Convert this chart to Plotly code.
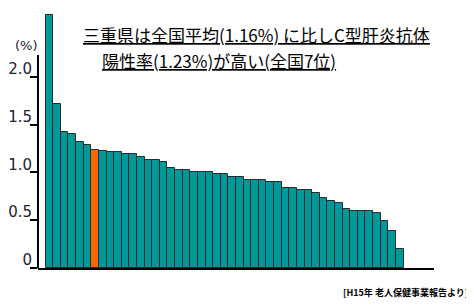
import plotly.graph_objects as go

values = [2.65, 1.72, 1.42, 1.40, 1.32, 1.29, 1.23, 1.22, 1.21, 1.21,
          1.19, 1.19, 1.16, 1.13, 1.13, 1.11, 1.05, 1.03, 1.03, 1.00,
          1.00, 1.00, 0.98, 0.98, 0.95, 0.95, 0.92, 0.92, 0.92, 0.90,
          0.90, 0.84, 0.84, 0.82, 0.82, 0.78, 0.73, 0.70, 0.68, 0.62,
          0.60, 0.60, 0.60, 0.58, 0.49, 0.39, 0.20]
categories = list(range(len(values)))
highlight_index = 6  # 三重県
tick_vals = [0, 0.5, 1.0, 1.5, 2.0]
tick_text = ["0", "0.5", "1.0", "1.5", "2.0"]

colors = ["#FF6600" if i == highlight_index else "#009999" for i in categories]

# page body has an 8px margin; figure is laid out in page pixels minus 8
OFF = 8
W, H = 466, 297
L, R, T, B = 30, 40, 2, 37
PW, PH = W - L - R, H - T - B


def px(xr):
    return (xr - OFF - L) / PW


def py(yr):
    return (H - B - (yr - OFF)) / PH


fig = go.Figure()
fig.add_trace(go.Bar(
    x=categories, y=values,
    marker=dict(color=colors, line=dict(color="#2a2a2a", width=1)),
    width=1.0,
    showlegend=False,
))

fig.update_layout(
    width=W, height=H,
    margin=dict(l=L, r=R, t=T, b=B, autoexpand=False),
    paper_bgcolor="white", plot_bgcolor="white",
    bargap=0,
    xaxis=dict(range=[-1.5, 50.5], showticklabels=False, ticks="",
               showgrid=False, zeroline=False, showline=True,
               linecolor="black", linewidth=2),
    yaxis=dict(range=[0, 2.70], tickvals=tick_vals, ticktext=tick_text,
               ticks="outside", ticklen=7, tickwidth=2, tickcolor="black",
               showgrid=False, zeroline=False, showline=False, automargin=False,
               tickfont=dict(family="DejaVu Sans", size=15, color="#222233"),
               ticklabelshift=-8, ticklabelstandoff=-5),
    font=dict(family="Noto Sans CJK JP"),
)

fig.add_shape(type="line", xref="x domain", yref="y", x0=0, x1=0, y0=0, y1=2.23,
              line=dict(color="black", width=2))

fig.add_annotation(xref="paper", yref="paper", x=px(26), y=py(45), text="(%)",
                   showarrow=False, xanchor="center", yanchor="middle",
                   font=dict(family="DejaVu Sans", size=13, color="#222233"))

title_font = dict(family="Noto Sans CJK JP", size=17, color="black")
fig.add_annotation(xref="paper", yref="paper", x=px(81), y=py(35),
                   text="<u>三重県は全国平均(1.16%) に比しC型肝炎抗体</u>",
                   showarrow=False, xanchor="left", yanchor="middle", font=title_font)
fig.add_annotation(xref="paper", yref="paper", x=px(100), y=py(60),
                   text="<u>陽性率(1.23%)が高い(全国7位)</u>",
                   showarrow=False, xanchor="left", yanchor="middle", font=title_font)

fig.add_annotation(xref="paper", yref="paper", x=px(470), y=py(292),
                   text="<b>[H15年 老人保健事業報告より]</b>",
                   showarrow=False, xanchor="right", yanchor="middle",
                   font=dict(family="Noto Sans CJK JP", size=9, color="black"))

fig.write_html("out.html")
